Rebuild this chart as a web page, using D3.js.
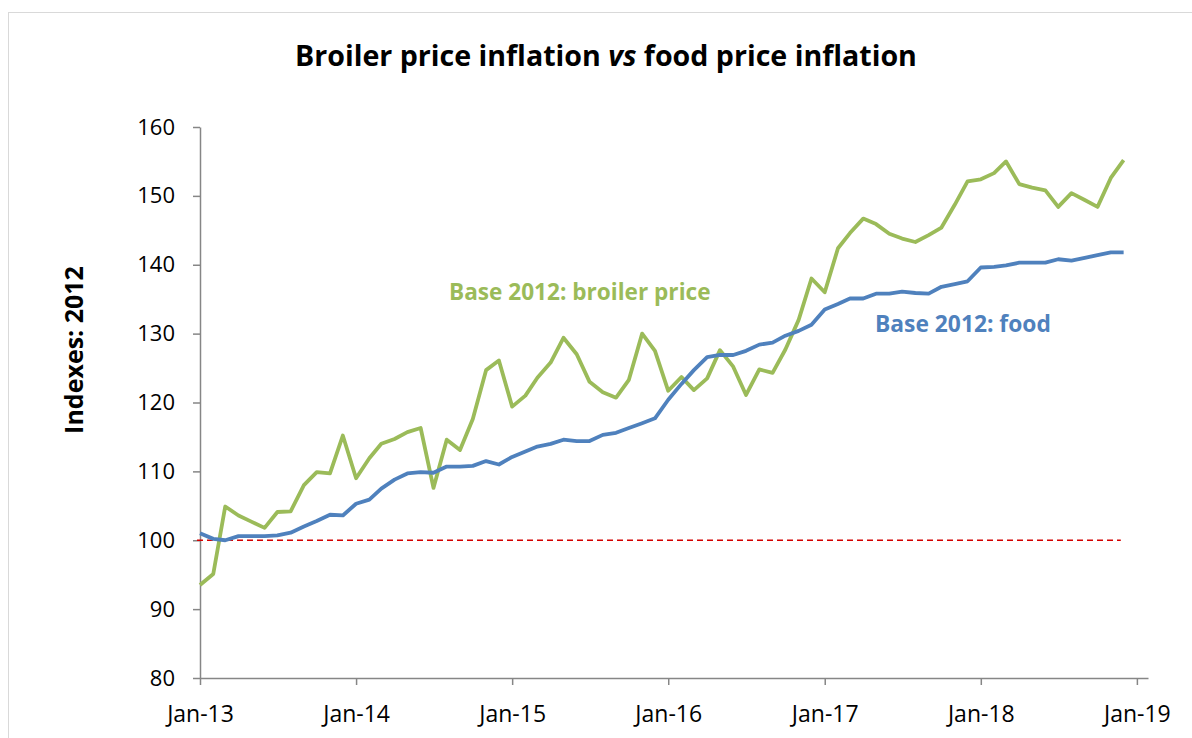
<!DOCTYPE html>
<html>
<head>
<meta charset="utf-8">
<script src="https://cdn.jsdelivr.net/npm/d3@7"></script>
<style>
    body { margin: 0; background: #fff; }
    svg text { font-family: 'Open Sans', Lato, sans-serif; }
</style>
</head>
<body>
<svg id="chart" width="1192" height="738"></svg>
<script>
//
// DATA
//
// monthly index values, Jan-13 .. Dec-18 (base 2012 = 100)
const startYear = 2013
const broilerPrice = [
    93.5, 95.1, 104.9, 103.6, 102.7, 101.8, 104.1, 104.2, 108.0, 109.9, 109.7, 115.2,
    109.0, 111.9, 114.0, 114.7, 115.7, 116.3, 107.6, 114.6, 113.1, 117.6, 124.7, 126.1,
    119.4, 121.0, 123.6, 125.8, 129.4, 127.0, 123.0, 121.5, 120.7, 123.3, 130.0, 127.5,
    121.7, 123.7, 121.8, 123.5, 127.6, 125.2, 121.1, 124.8, 124.3, 127.7, 132.0, 138.0,
    136.0, 142.4, 144.6, 146.7, 145.9, 144.5, 143.8, 143.3, 144.3, 145.4, 148.7, 152.1,
    152.4, 153.3, 155.0, 151.7, 151.2, 150.8, 148.4, 150.4, 149.4, 148.4, 152.6, 155.2
]
const foodPrice = [
    101.0, 100.2, 100.0, 100.6, 100.6, 100.6, 100.7, 101.1, 102.0, 102.8, 103.7, 103.6,
    105.3, 105.9, 107.5, 108.8, 109.7, 109.9, 109.8, 110.7, 110.7, 110.8, 111.5, 111.0,
    112.1, 112.9, 113.6, 114.0, 114.6, 114.4, 114.4, 115.3, 115.6, 116.3, 117.0, 117.7,
    120.4, 122.7, 124.7, 126.6, 126.9, 126.9, 127.5, 128.4, 128.7, 129.7, 130.4, 131.3,
    133.5, 134.3, 135.1, 135.1, 135.8, 135.8, 136.1, 135.9, 135.8, 136.8, 137.2, 137.6,
    139.6, 139.7, 139.9, 140.3, 140.3, 140.3, 140.8, 140.6, 141.0, 141.4, 141.8, 141.8
]
const baseIndex = 100
const yTicks = [80, 90, 100, 110, 120, 130, 140, 150, 160]
const xTickYears = [2013, 2014, 2015, 2016, 2017, 2018, 2019]

const months = broilerPrice.map((d, i) => new Date(startYear, i, 1))

//
// CHART
//
const svg = d3.select('#chart')
const margin = { left: 200, right: 1148, top: 127, bottom: 678 }
const fontStack = "'Open Sans', Lato, sans-serif"

// outer chart border
svg.append('rect')
    .attr('x', 8.5)
    .attr('y', 12.5)
    .attr('width', 1200)
    .attr('height', 800)
    .attr('fill', 'none')
    .attr('stroke', '#d9d9d9')
    .attr('stroke-width', 1)

// scales: axis ends a little after Jan-19, like the Excel date axis
const x = d3.scaleTime()
    .domain([new Date(2013, 0, 1), new Date(2019, 0, 27)])
    .range([margin.left, margin.right])
const y = d3.scaleLinear()
    .domain([80, 160])
    .range([margin.bottom, margin.top])

// title
const title = svg.append('text')
    .attr('x', 606)
    .attr('y', 66)
    .attr('text-anchor', 'middle')
    .attr('font-size', 28.6)
    .attr('font-weight', 'bold')
    .attr('fill', '#000')
title.append('tspan').text('Broiler price inflation ')
title.append('tspan').attr('font-style', 'italic').text('vs')
title.append('tspan').text(' food price inflation')

// y axis
const yAxis = svg.append('g')
    .attr('transform', `translate(${margin.left},0)`)
    .call(d3.axisLeft(y).tickValues(yTicks).tickSize(7).tickSizeOuter(0))
yAxis.select('.domain').attr('stroke', '#868686').attr('stroke-width', 1.5)
yAxis.selectAll('.tick line').attr('stroke', '#868686').attr('stroke-width', 1.5)
yAxis.selectAll('.tick text')
    .attr('x', -25)
    .attr('font-size', 22)
    .attr('fill', '#000')
    .style('font-family', fontStack)

// x axis
const xAxis = svg.append('g')
    .attr('transform', `translate(0,${margin.bottom})`)
    .call(
        d3.axisBottom(x)
            .tickValues(xTickYears.map(yr => new Date(yr, 0, 1)))
            .tickFormat(d3.timeFormat('%b-%y'))
            .tickSize(7)
            .tickSizeOuter(0)
    )
xAxis.select('.domain').attr('stroke', '#868686').attr('stroke-width', 1.5)
xAxis.selectAll('.tick line').attr('stroke', '#868686').attr('stroke-width', 1.5)
xAxis.selectAll('.tick text')
    .attr('y', 28)
    .attr('font-size', 23)
    .attr('fill', '#000')
    .style('font-family', fontStack)

// y axis title
svg.append('text')
    .attr('transform', 'translate(83,350) rotate(-90)')
    .attr('text-anchor', 'middle')
    .attr('font-size', 25)
    .attr('font-weight', 'bold')
    .attr('fill', '#000')
    .text('Indexes: 2012')

// reference line at base index
svg.append('path')
    .attr('d', d3.line()([
        [x(months[0]) - 3, y(baseIndex)],
        [x(months[months.length - 2]) + 10, y(baseIndex)]
    ]))
    .attr('stroke', '#d40000')
    .attr('stroke-width', 1.6)
    .attr('stroke-dasharray', '6,4')
    .attr('fill', 'none')

// series lines
const line = d3.line()
    .x((d, i) => x(months[i]))
    .y(d => y(d))

svg.append('path')
    .datum(broilerPrice)
    .attr('d', line)
    .attr('fill', 'none')
    .attr('stroke', '#9bbb59')
    .attr('stroke-width', 3.8)
    .attr('stroke-linejoin', 'round')

svg.append('path')
    .datum(foodPrice)
    .attr('d', line)
    .attr('fill', 'none')
    .attr('stroke', '#4f81bd')
    .attr('stroke-width', 3.8)
    .attr('stroke-linejoin', 'round')

// series labels
svg.append('text')
    .attr('x', 449)
    .attr('y', 300)
    .attr('font-size', 22.6)
    .attr('font-weight', 'bold')
    .attr('fill', '#9bbb59')
    .text('Base 2012: broiler price')

svg.append('text')
    .attr('x', 875)
    .attr('y', 332)
    .attr('font-size', 22.8)
    .attr('font-weight', 'bold')
    .attr('fill', '#4f81bd')
    .text('Base 2012: food')
</script>
</body>
</html>
